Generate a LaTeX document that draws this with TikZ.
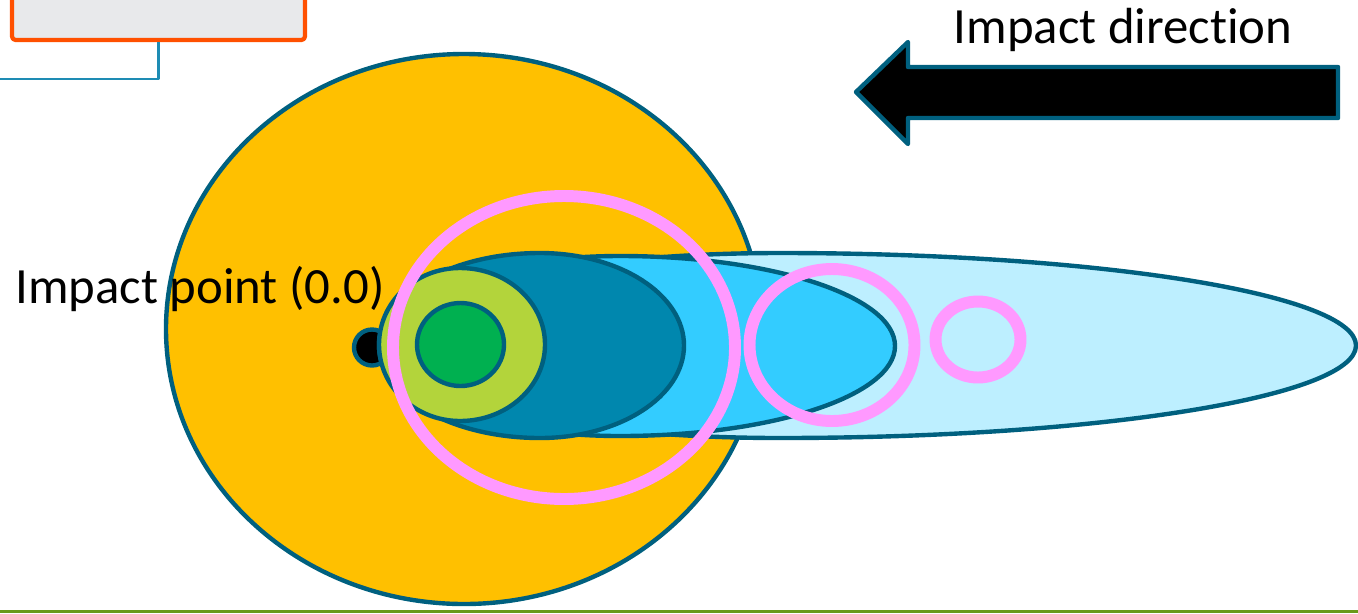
\documentclass[tikz,border=0pt]{standalone}
\usepackage{fontspec}
\setmainfont{Carlito}[Ligatures=NoCommon]
\definecolor{rimteal}{HTML}{00607F}
\definecolor{zoneorange}{HTML}{FFC000}
\definecolor{zonepale}{HTML}{BDEFFF}
\definecolor{zonesky}{HTML}{33CCFF}
\definecolor{zonedeep}{HTML}{0087AE}
\definecolor{zonelime}{HTML}{B3D43B}
\definecolor{zonegreen}{HTML}{00B050}
\definecolor{ringpink}{HTML}{FF99FF}
\definecolor{boxorange}{HTML}{FF5000}
\definecolor{boxgray}{HTML}{E8E9EB}
\definecolor{leadblue}{HTML}{1E8CB4}
\definecolor{baseolive}{HTML}{6A9A1A}
\tikzset{
  zone/.style={draw=rimteal, line width=2.5pt},
  ring/.style={draw=ringpink, line width=6.8pt},
  label/.style={inner sep=0pt, font=\fontsize{28.9}{34}\selectfont, text=black},
}
% egg-shaped zone: fill, centre x, centre y, left half-width, right half-width, half-height
\newcommand{\eggzone}[6]{%
  \draw[zone, fill=#1] (#2,#3+#6)
    arc[start angle=90, end angle=270, x radius=#4, y radius=#6]
    arc[start angle=-90, end angle=90, x radius=#5, y radius=#6] -- cycle;}
\begin{document}
\begin{tikzpicture}[x=0.02cm, y=-0.02cm, line join=round]
\useasboundingbox (0,0) rectangle (1358,613);
\clip (0,0) rectangle (1358,613);

% caption box at the top left and its lead line
\node[draw=boxorange, fill=boxgray, line width=2.4pt, rounded corners=2pt,
      minimum width=5.86cm, minimum height=1.2cm, inner sep=0pt] (box) at (158.5,10) {};
\coordinate (leadend) at (0,79);
\draw[leadblue, line width=1.3pt] (box.south) |- (leadend);

% bottom rule
\coordinate (ruleL) at (0,611.5);
\coordinate (ruleR) at (1358,611.5);
\draw[baseolive, line width=1.2pt] (ruleL) -- (ruleR);

% outer damage zone
\draw[zone, fill=zoneorange] (464,329) ellipse [x radius=298, y radius=275];

% impact point marker
\draw[zone, fill=black] (372,347.5) circle [radius=18];

% nested zones, largest first
\eggzone{zonepale}{780}{345.5}{400}{576}{92.5}
\eggzone{zonesky}{620}{346}{240}{275}{90}
\eggzone{zonedeep}{540}{345.5}{161}{144}{92.5}
\eggzone{zonelime}{460}{344.5}{81}{85}{76.5}
\draw[zone, fill=zonegreen] (460.5,344.5) ellipse [x radius=43.5, y radius=41.5];

% pink rings
\draw[ring] (564,347.5) ellipse [x radius=171, y radius=151.5];
\draw[ring] (832,345) ellipse [x radius=82.5, y radius=76];
\draw[ring] (978,339.5) ellipse [x radius=42.5, y radius=38];

% impact direction arrow
\draw[zone, fill=black] (856,92) -- (908,42) -- (908,67) -- (1338,67)
  -- (1338,118) -- (908,118) -- (908,144) -- cycle;

% labels
\node[label, anchor=base] (dirlabel) at (1123,43) {Impact direction};
\node[label, anchor=base west] (ptlabel) at (15,303) {Impact point (0.0)};
\end{tikzpicture}
\end{document}
